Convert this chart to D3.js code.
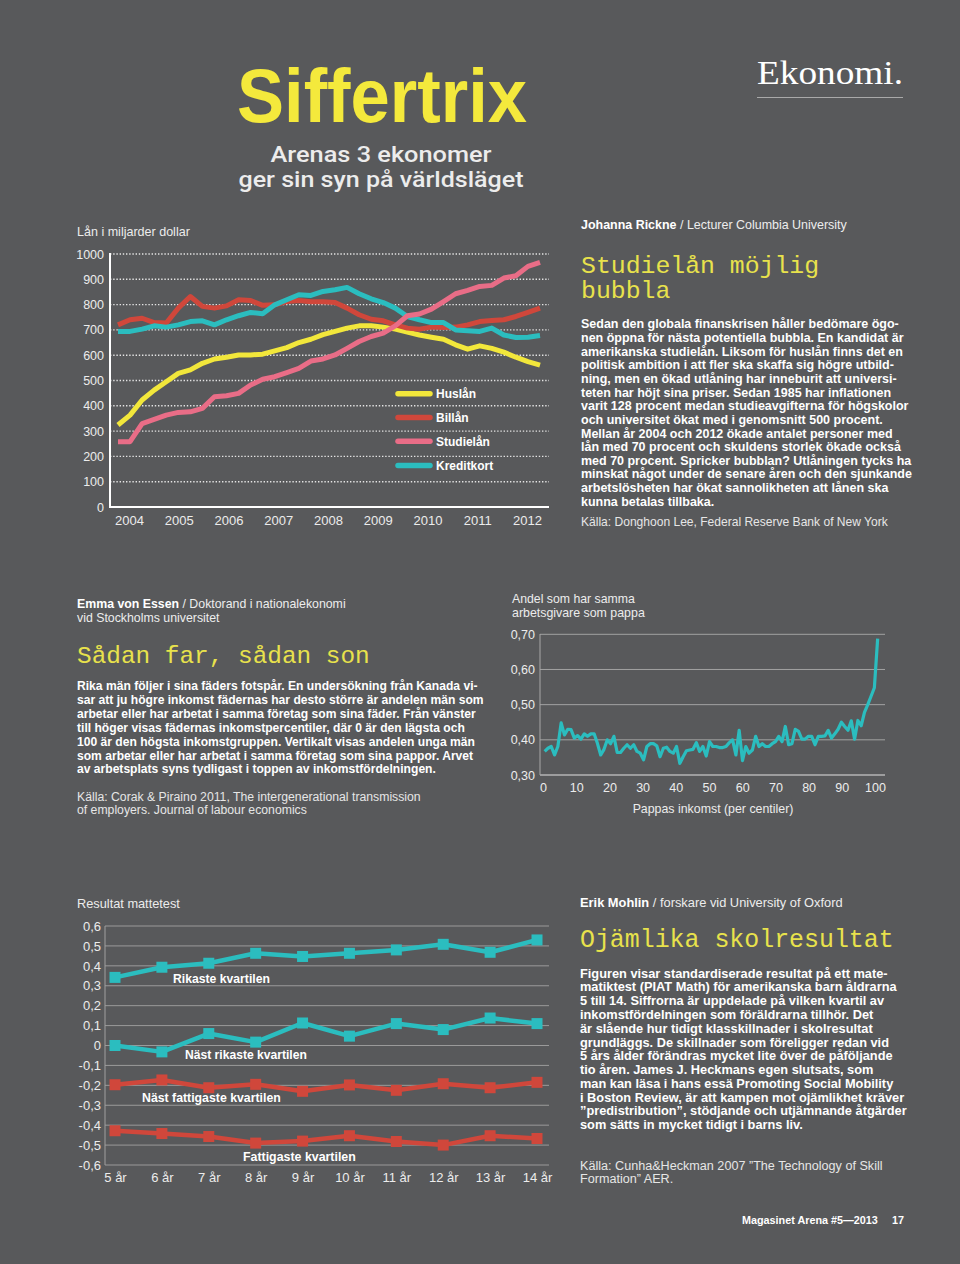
<!DOCTYPE html>
<html><head><meta charset="utf-8">
<script src="https://cdn.jsdelivr.net/npm/d3@7"></script>
<style>body{margin:0;background:#58595b;} svg{display:block}</style>
</head><body><svg id="c" width="960" height="1264"></svg>
<script>
// ---------- DATA ----------
// Chart 1: household debt, billions of dollars, quarterly 2004Q1-2012Q4
const debtYears = ["2004","2005","2006","2007","2008","2009","2010","2011","2012"];
const huslan     = [324,363,423,462,495,528,542,568,585,592,601,601,604,617,630,650,663,681,694,707,716,716,711,703,691,680,671,663,641,624,637,627,612,592,575,561];
const billan     = [720,740,746,729,727,786,832,793,786,795,819,816,797,799,812,816,811,811,808,786,760,742,736,720,707,703,711,709,711,720,733,737,740,753,769,786];
const studielan  = [258,258,330,346,363,374,376,390,436,440,449,482,505,515,531,548,577,585,601,627,654,674,687,716,756,763,782,812,843,856,872,876,905,914,951,967];
const kreditkort = [694,694,703,716,711,720,733,736,720,740,756,769,764,799,819,839,836,852,859,868,843,823,808,786,753,740,729,729,700,697,694,707,680,670,671,678];
const debtNames  = ["Huslån","Billån","Studielån","Kreditkort"];
const debtTicks  = [0,100,200,300,400,500,600,700,800,900,1000];

// Chart 2: share with same employer as father, by father's income centile
const sameEmployer = [0.367,0.376,0.381,0.357,0.381,0.448,0.414,0.430,0.429,0.405,0.412,0.402,0.417,0.410,0.417,0.417,0.390,0.357,0.373,0.400,0.389,0.410,0.364,0.364,0.376,0.386,0.376,0.386,0.367,0.362,0.343,0.381,0.389,0.389,0.383,0.352,0.376,0.379,0.367,0.362,0.381,0.333,0.352,0.369,0.371,0.373,0.392,0.367,0.381,0.354,0.395,0.381,0.381,0.378,0.378,0.381,0.392,0.400,0.357,0.427,0.341,0.381,0.362,0.371,0.410,0.381,0.389,0.381,0.381,0.389,0.395,0.410,0.395,0.438,0.386,0.389,0.430,0.424,0.402,0.402,0.410,0.410,0.386,0.410,0.410,0.411,0.427,0.405,0.417,0.430,0.450,0.438,0.427,0.454,0.402,0.455,0.440,0.478,0.500,0.524,0.548,0.688];
const centileTicks = [0,10,20,30,40,50,60,70,80,90,100];
const shareTicks = [0.3,0.4,0.5,0.6,0.7];

// Chart 3: standardized math test results by income quartile
const ages = ["5 år","6 år","7 år","8 år","9 år","10 år","11 år","12 år","13 år","14 år"];
const rikaste        = [0.342,0.393,0.413,0.463,0.447,0.463,0.480,0.508,0.468,0.530];
const nastRikaste    = [0.000,-0.032,0.060,0.017,0.113,0.047,0.110,0.080,0.138,0.110];
const nastFattigaste = [-0.197,-0.173,-0.212,-0.195,-0.230,-0.198,-0.225,-0.192,-0.212,-0.185];
const fattigaste     = [-0.428,-0.442,-0.457,-0.490,-0.480,-0.453,-0.482,-0.500,-0.453,-0.467];
const mathTicks = [-0.6,-0.5,-0.4,-0.3,-0.2,-0.1,0,0.1,0.2,0.3,0.4,0.5,0.6];

// ---------- HELPERS ----------
const svg = d3.select('#c');
const BG = '#58595b';
const SANS = "'Liberation Sans', Arial, sans-serif";
const MONO = "'Liberation Mono', 'DejaVu Sans Mono', monospace";
const YEL = '#f4e93c', TITLEYEL = '#e8e24c';
const C_YEL = '#f2e73b', C_RED = '#d0473b', C_PINK = '#e96d87', C_TEAL = '#2bbdbf';
svg.append('rect').attr('width',960).attr('height',1264).attr('fill',BG);

function fitW(t, target){
  const w = t.node().getComputedTextLength();
  const fs = +t.attr('font-size');
  t.attr('font-size', fs*target/w);
  return fs*target/w;
}
function txt(x, y, s, o={}){
  const t = svg.append('text').attr('x',x).attr('y',y).text(s)
    .attr('font-family', o.family||SANS).attr('font-size', o.size||12)
    .attr('font-weight', o.weight||400).attr('fill', o.fill||'#fff')
    .attr('text-anchor', o.anchor||'start');
  if (o.width) fitW(t, o.width);
  return t;
}
function author(x, y, name, rest, width, extra){
  const t = svg.append('text').attr('x',x).attr('y',y)
    .attr('font-family',SANS).attr('font-size',12.5).attr('fill','#ededed');
  t.append('tspan').attr('font-weight',700).attr('fill','#fff').text(name);
  t.append('tspan').text(' / ' + rest);
  const fs = fitW(t, width);
  if (extra) txt(x, y+13.2, extra, {size:fs, fill:'#ededed'});
}
function para(x, y0, lh, lines, width, o={}){
  const ts = lines.map((s,i)=> txt(x, y0+i*lh, s, {size:12.5, weight:o.weight||700, fill:o.fill||'#fff'}));
  const fs = fitW(ts[0], width);
  ts.forEach(t=>t.attr('font-size', fs));
}

// ---------- HEADER ----------
txt(382, 122, 'Siffertrix', {size:76, weight:700, fill:YEL, anchor:'middle'})
  .attr('textLength',290).attr('lengthAdjust','spacingAndGlyphs');
txt(381, 162, 'Arenas 3 ekonomer', {family:"Roboto, 'Liberation Sans', sans-serif", size:22, weight:500, fill:'#ececec', anchor:'middle'})
  .attr('textLength',221).attr('lengthAdjust','spacingAndGlyphs');
txt(381, 187, 'ger sin syn på världsläget', {family:"Roboto, 'Liberation Sans', sans-serif", size:22, weight:500, fill:'#ececec', anchor:'middle'})
  .attr('textLength',285).attr('lengthAdjust','spacingAndGlyphs');
txt(757, 84, 'Ekonomi.', {family:"'Liberation Serif', 'DejaVu Serif', serif", size:33, fill:'#fff'})
  .attr('textLength',146).attr('lengthAdjust','spacingAndGlyphs');
svg.append('line').attr('x1',757).attr('x2',903).attr('y1',97.5).attr('y2',97.5).attr('stroke','#a9a9a9').attr('stroke-width',1);

// ---------- CHART 1 ----------
txt(77, 236, 'Lån i miljarder dollar', {size:12.5, fill:'#ececec', width:113});
const y1 = d3.scaleLinear().domain([0,1000]).range([507,254]);
const x1 = d3.scaleLinear().domain([0, huslan.length-1]).range([118,540]);
const x1lab = d3.scalePoint().domain(debtYears).range([129,527]);
const g1 = svg.append('g');
g1.selectAll('line.grid').data(debtTicks.filter(d=>d>0)).join('line')
  .attr('x1',110).attr('x2',549).attr('y1',d=>y1(d)).attr('y2',d=>y1(d))
  .attr('stroke','#e4e4e4').attr('stroke-width',1.4).attr('stroke-dasharray','1.4,1.8');
const ya1 = g1.append('g').attr('transform','translate(104,0)')
  .call(d3.axisLeft(y1).tickValues(debtTicks).tickFormat(d3.format('d')).tickSize(0).tickPadding(0));
ya1.select('.domain').remove();
ya1.selectAll('text').attr('font-family',SANS).attr('font-size',12.5).attr('fill','#ececec');
const xa1 = g1.append('g').attr('transform','translate(0,507)')
  .call(d3.axisBottom(x1lab).tickSize(0).tickPadding(9));
xa1.select('.domain').remove();
xa1.selectAll('text').attr('font-family',SANS).attr('font-size',13).attr('fill','#ececec');
g1.append('line').attr('x1',110).attr('x2',110).attr('y1',253).attr('y2',508).attr('stroke','#fff').attr('stroke-width',2);
g1.append('line').attr('x1',109).attr('x2',549).attr('y1',507).attr('y2',507).attr('stroke','#fff').attr('stroke-width',2);
const line1 = d3.line().x((d,i)=>x1(i)).y(d=>y1(d));
[[huslan,C_YEL],[billan,C_RED],[kreditkort,C_TEAL],[studielan,C_PINK]].forEach(([s,c])=>{
  g1.append('path').attr('d',line1(s)).attr('fill','none').attr('stroke',c)
    .attr('stroke-width',5).attr('stroke-linejoin','round');
});
const legCols = [C_YEL,C_RED,C_PINK,C_TEAL];
const legY = [398.3,422,445.7,470];
let legFs = 12.5;
debtNames.forEach((n,i)=>{
  g1.append('line').attr('x1',398).attr('x2',430).attr('y1',legY[i]-4.5).attr('y2',legY[i]-4.5)
    .attr('stroke',legCols[i]).attr('stroke-width',5.5).attr('stroke-linecap','round');
  const t = txt(436, legY[i], n, {size:legFs, weight:700, fill:'#fff'});
  if (i===0) legFs = fitW(t, 40);
});

// ---------- TEXT BLOCK 1 ----------
author(581, 229, 'Johanna Rickne', 'Lecturer Columbia University', 266);
{
  const t = svg.append('text').attr('font-family',MONO).attr('font-size',24.8).attr('fill',TITLEYEL);
  t.append('tspan').attr('x',581).attr('y',273.3).text('Studielån möjlig');
  t.append('tspan').attr('x',581).attr('y',298.3).text('bubbla');
}
para(581, 328.3, 13.65, [
  'Sedan den globala finanskrisen håller bedömare ögo-',
  'nen öppna för nästa potentiella bubbla. En kandidat är',
  'amerikanska studielån. Liksom för huslån finns det en',
  'politisk ambition i att fler ska skaffa sig högre utbild-',
  'ning, men en ökad utlåning har inneburit att universi-',
  'teten har höjt sina priser. Sedan 1985 har inflationen',
  'varit 128 procent medan studieavgifterna för högskolor',
  'och universitet ökat med i genomsnitt 500 procent.',
  'Mellan år 2004 och 2012 ökade antalet personer med',
  'lån med 70 procent och skuldens storlek ökade också',
  'med 70 procent. Spricker bubblan? Utlåningen tycks ha',
  'minskat något under de senare åren och den sjunkande',
  'arbetslösheten har ökat sannolikheten att lånen ska',
  'kunna betalas tillbaka.'
], 318);
para(581, 526, 13.65, ['Källa: Donghoon Lee, Federal Reserve Bank of New York'], 307, {weight:400, fill:'#e6e6e6'});

// ---------- TEXT BLOCK 2 ----------
author(77, 608.3, 'Emma von Essen', 'Doktorand i nationalekonomi', 269, 'vid Stockholms universitet');
txt(77, 662.7, 'Sådan far, sådan son', {family:MONO, size:24.4, fill:TITLEYEL});
para(77, 690, 13.9, [
  'Rika män följer i sina fäders fotspår. En undersökning från Kanada vi-',
  'sar att ju högre inkomst fädernas har desto större är andelen män som',
  'arbetar eller har arbetat i samma företag som sina fäder. Från vänster',
  'till höger visas fädernas inkomstpercentiler, där 0 är den lägsta och',
  '100 är den högsta inkomstgruppen. Vertikalt visas andelen unga män',
  'som arbetar eller har arbetat i samma företag som sina pappor. Arvet',
  'av arbetsplats syns tydligast i toppen av inkomstfördelningen.'
], 401);
para(77, 800.7, 13.4, [
  'Källa: Corak & Piraino 2011, The intergenerational transmission',
  'of employers. Journal of labour economics'
], 344, {weight:400, fill:'#e6e6e6'});

// ---------- CHART 2 ----------
txt(512, 603.3, 'Andel som har samma', {size:12.5, fill:'#ececec', width:123});
txt(512, 617.3, 'arbetsgivare som pappa', {size:12.5, fill:'#ececec', width:133});
const y2 = d3.scaleLinear().domain([0.3,0.7]).range([775,634.3]);
const x2 = d3.scaleLinear().domain([0,100]).range([543,875]);
const x2d = d3.scaleLinear().domain([0, sameEmployer.length-1]).range([x2(0.5), x2(100.8)]);
const g2 = svg.append('g');
g2.selectAll('line.grid').data(shareTicks.filter(d=>d>0.3)).join('line')
  .attr('x1',540).attr('x2',885).attr('y1',d=>y2(d)).attr('y2',d=>y2(d))
  .attr('stroke','#a2a2a2').attr('stroke-width',1);
g2.append('line').attr('x1',540).attr('x2',885).attr('y1',775).attr('y2',775).attr('stroke','#b4b4b4').attr('stroke-width',1.5);
g2.append('line').attr('x1',540).attr('x2',540).attr('y1',634).attr('y2',775).attr('stroke','#a8a8a8').attr('stroke-width',1);
const fmt2 = v => d3.format('.2f')(v).replace('.',',');
const ya2 = g2.append('g').attr('transform','translate(535,0)')
  .call(d3.axisLeft(y2).tickValues(shareTicks).tickFormat(fmt2).tickSize(0).tickPadding(0));
ya2.select('.domain').remove();
ya2.selectAll('text').attr('font-family',SANS).attr('font-size',12.5).attr('fill','#ececec');
const xa2 = g2.append('g').attr('transform','translate(0,775)')
  .call(d3.axisBottom(x2).tickValues(centileTicks).tickFormat(d3.format('d')).tickSize(0).tickPadding(7.8));
xa2.select('.domain').remove();
xa2.selectAll('text').attr('font-family',SANS).attr('font-size',12.5).attr('fill','#ececec');
g2.append('path').attr('d', d3.line().x((d,i)=>x2d(i)).y(d=>y2(d))(sameEmployer))
  .attr('fill','none').attr('stroke',C_TEAL).attr('stroke-width',3.2).attr('stroke-linejoin','round');
txt(713, 813, 'Pappas inkomst (per centiler)', {size:12.5, fill:'#ececec', anchor:'middle', width:161});

// ---------- CHART 3 ----------
txt(77, 908.3, 'Resultat mattetest', {size:12.5, fill:'#ececec', width:103});
const y3 = d3.scaleLinear().domain([-0.6,0.6]).range([1165,926]);
const x3 = d3.scalePoint().domain(ages).range([115,537]);
const g3 = svg.append('g');
g3.selectAll('line.grid').data(mathTicks).join('line')
  .attr('x1',105).attr('x2',549).attr('y1',d=>y3(d)).attr('y2',d=>y3(d))
  .attr('stroke','#9a9a9a').attr('stroke-width',1);
g3.append('line').attr('x1',105).attr('x2',105).attr('y1',926).attr('y2',1165).attr('stroke','#a0a0a0').attr('stroke-width',1);
const fmt3 = v => Math.abs(v)<1e-9 ? '0' : d3.format('.1f')(v).replace('.',',').replace('−','-');
const ya3 = g3.append('g').attr('transform','translate(101,0)')
  .call(d3.axisLeft(y3).tickValues(mathTicks).tickFormat(fmt3).tickSize(0).tickPadding(0));
ya3.select('.domain').remove();
ya3.selectAll('text').attr('font-family',SANS).attr('font-size',13).attr('fill','#ececec');
const xa3 = g3.append('g').attr('transform','translate(0,1165)')
  .call(d3.axisBottom(x3).tickSize(0).tickPadding(7.5));
xa3.select('.domain').remove();
xa3.selectAll('text').attr('font-family',SANS).attr('font-size',13).attr('fill','#ececec');
const line3 = d3.line().x((d,i)=>x3(ages[i])).y(d=>y3(d));
[[rikaste,C_TEAL],[nastRikaste,C_TEAL],[nastFattigaste,C_RED],[fattigaste,C_RED]].forEach(([s,c])=>{
  g3.append('path').attr('d',line3(s)).attr('fill','none').attr('stroke',c).attr('stroke-width',4.5).attr('stroke-linejoin','round');
  g3.selectAll(null).data(s).join('rect')
    .attr('x',(d,i)=>x3(ages[i])-5.5).attr('y',d=>y3(d)-5.5).attr('width',11).attr('height',11).attr('fill',c);
});
txt(173, 982.7, 'Rikaste kvartilen', {size:12.5, weight:700, width:97});
txt(185, 1059, 'Näst rikaste kvartilen', {size:12.5, weight:700, width:122});
txt(142, 1102, 'Näst fattigaste kvartilen', {size:12.5, weight:700, width:139});
txt(243, 1160.7, 'Fattigaste kvartilen', {size:12.5, weight:700, width:113});

// ---------- TEXT BLOCK 3 ----------
author(580, 907.3, 'Erik Mohlin', 'forskare vid University of Oxford', 263);
txt(580, 947.3, 'Ojämlika skolresultat', {family:MONO, size:24.9, fill:TITLEYEL});
para(580, 977.7, 13.77, [
  'Figuren visar standardiserade resultat på ett mate-',
  'matiktest (PIAT Math) för amerikanska barn åldrarna',
  '5 till 14. Siffrorna är uppdelade på vilken kvartil av',
  'inkomstfördelningen som föräldrarna tillhör. Det',
  'är slående hur tidigt klasskillnader i skolresultat',
  'grundläggs. De skillnader som föreligger redan vid',
  '5 års ålder förändras mycket lite över de påföljande',
  'tio åren.  James J. Heckmans egen slutsats, som',
  'man kan läsa i hans essä Promoting Social Mobility',
  'i Boston Review, är att kampen mot ojämlikhet kräver',
  '”predistribution”, stödjande och utjämnande åtgärder',
  'som sätts in mycket tidigt i barns liv.'
], 308);
para(580, 1170, 12.7, [
  'Källa: Cunha&Heckman 2007 ”The Technology of Skill',
  'Formation” AER.'
], 303, {weight:400, fill:'#e6e6e6'});

// ---------- FOOTER ----------
const ft = txt(742, 1224, 'Magasinet Arena #5—2013', {size:11, weight:700, fill:'#fff', width:136});
txt(892, 1224, '17', {size:+ft.attr('font-size'), weight:700, fill:'#fff'});
</script></body></html>
